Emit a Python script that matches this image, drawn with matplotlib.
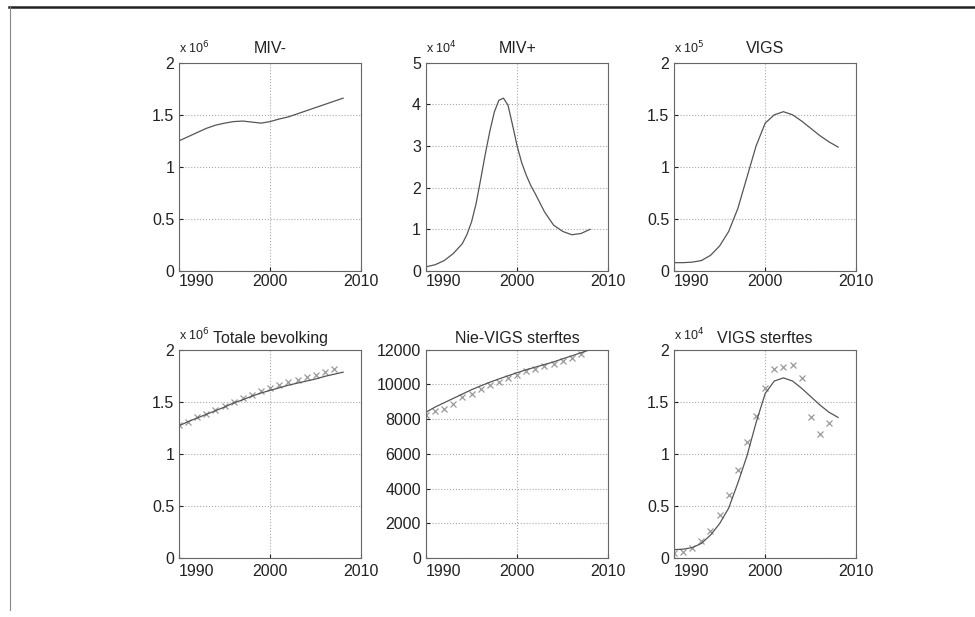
import matplotlib.pyplot as plt
from matplotlib.lines import Line2D
from matplotlib.ticker import FuncFormatter

plt.rcParams['font.family'] = ['Liberation Sans', 'DejaVu Sans']

# years of the model curves and of the observed points
years = list(range(1990, 2009))
obs_years = list(range(1990, 2008))
miv_pos_years = [1990, 1991, 1992, 1993, 1994, 1994.5, 1995, 1995.5, 1996,
                 1996.5, 1997, 1997.5, 1998, 1998.5, 1999, 1999.5, 2000,
                 2000.5, 2001, 2001.5, 2002, 2003, 2004, 2005, 2006, 2007, 2008]

# model curves (scaled by the factor in the corner label)
miv_neg = [1.25, 1.29, 1.33, 1.37, 1.40, 1.42, 1.435, 1.44, 1.43, 1.42, 1.435,
           1.46, 1.48, 1.51, 1.54, 1.57, 1.60, 1.63, 1.66]
miv_pos = [0.10, 0.15, 0.25, 0.42, 0.66, 0.88, 1.18, 1.62, 2.20, 2.80, 3.35,
           3.82, 4.10, 4.15, 3.98, 3.50, 3.00, 2.60, 2.30, 2.05, 1.85, 1.42,
           1.10, 0.95, 0.87, 0.90, 1.00]
vigs = [0.08, 0.08, 0.085, 0.10, 0.15, 0.24, 0.38, 0.60, 0.90, 1.20, 1.42,
        1.50, 1.53, 1.50, 1.44, 1.37, 1.30, 1.24, 1.19]
totale = [1.27, 1.31, 1.345, 1.38, 1.415, 1.45, 1.49, 1.52, 1.555, 1.585, 1.61,
          1.635, 1.66, 1.68, 1.70, 1.72, 1.745, 1.765, 1.785]
nie_vigs = [8400, 8700, 8950, 9200, 9450, 9700, 9920, 10130, 10320, 10500,
            10680, 10850, 11000, 11150, 11300, 11480, 11650, 11830, 12000]
vigs_sterftes = [0.08, 0.085, 0.10, 0.14, 0.22, 0.33, 0.48, 0.72, 0.98, 1.30,
                 1.58, 1.70, 1.73, 1.70, 1.63, 1.55, 1.47, 1.40, 1.35]

# observed data (crosses)
totale_obs = [1.28, 1.31, 1.35, 1.38, 1.42, 1.46, 1.50, 1.54, 1.57, 1.60, 1.63,
              1.66, 1.69, 1.71, 1.74, 1.76, 1.79, 1.82]
nie_vigs_obs = [8250, 8450, 8600, 8850, 9250, 9450, 9750, 9950, 10150, 10350,
                10550, 10750, 10900, 11050, 11200, 11350, 11550, 11750]
vigs_sterftes_obs = [0.05, 0.06, 0.10, 0.16, 0.26, 0.41, 0.61, 0.85, 1.11, 1.36,
                     1.63, 1.82, 1.83, 1.85, 1.73, 1.35, 1.19, 1.30]

titles = ['MIV-', 'MIV+', 'VIGS', 'Totale bevolking', 'Nie-VIGS sterftes',
          'VIGS sterftes']
exponents = ['6', '4', '5', '6', None, '4']
ylims = [2, 5, 2, 2, 12000, 2]
ysteps = [0.5, 1, 0.5, 0.5, 2000, 0.5]

fig = plt.figure(figsize=(9.75, 6.17), dpi=100)

# axes boxes in figure fractions
lefts = [0.1836, 0.4369, 0.6913]
bottoms = [0.5608, 0.0956]
w, h = 0.187, 0.3375

line_col = '#555555'
mark_col = '#999999'

panels = [
    (years, miv_neg, None, None),
    (miv_pos_years, miv_pos, None, None),
    (years, vigs, None, None),
    (years, totale, obs_years, totale_obs),
    (years, nie_vigs, obs_years, nie_vigs_obs),
    (years, vigs_sterftes, obs_years, vigs_sterftes_obs),
]

for i, (xs, ys, ox, oy) in enumerate(panels):
    ax = fig.add_axes([lefts[i % 3], bottoms[i // 3], w, h])
    if ox is not None:
        ax.plot(ox, oy, 'x', color=mark_col, markersize=5, markeredgewidth=0.9)
    ax.plot(xs, ys, '-', color=line_col, linewidth=0.9)

    ax.set_xlim(1990, 2010)
    ax.set_ylim(0, ylims[i])
    ax.set_xticks([1990, 2000, 2010])
    n = int(round(ylims[i] / ysteps[i]))
    ax.set_yticks([k * ysteps[i] for k in range(n + 1)])
    ax.yaxis.set_major_formatter(FuncFormatter(lambda v, p: '%g' % v))

    ax.grid(True, linestyle=':', color='#aaaaaa', linewidth=0.8)
    ax.tick_params(direction='in', length=3, labelsize=11.5, colors='#222222')
    ax.tick_params(axis='x', pad=2 if i < 3 else 4)
    for s in ax.spines.values():
        s.set_color('#666666')
        s.set_linewidth(0.8)

    # matlab-ish: first year label starts at the left edge
    fig.canvas.draw()
    ax.get_xticklabels()[0].set_ha('left')

    ax.set_title(titles[i], fontsize=11.5, pad=7 if i < 3 else 5,
                 color='#222222')
    if exponents[i]:
        ax.text(0.0, 1.03, r'x 10$^{%s}$' % exponents[i], transform=ax.transAxes,
                fontsize=9, ha='left', va='bottom', color='#222222')

# scanned page frame
fig.add_artist(Line2D([9 / 975, 1], [1 - 7 / 617, 1 - 7 / 617],
                      transform=fig.transFigure, color='#222222', linewidth=1.8))
fig.add_artist(Line2D([10 / 975, 10 / 975], [1 - 7 / 617, 1 - 610 / 617],
                      transform=fig.transFigure, color='#888888', linewidth=0.8))

plt.savefig('out.png', dpi=100)
